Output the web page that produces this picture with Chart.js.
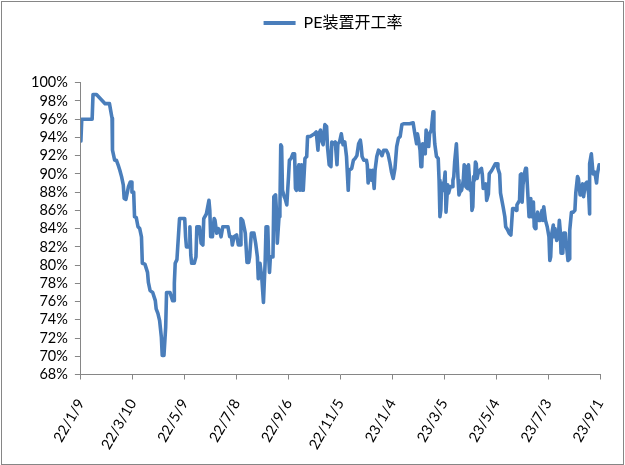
<!DOCTYPE html>
<html>
<head>
<meta charset="utf-8">
<script src="https://cdn.jsdelivr.net/npm/chart.js@4.4.1/dist/chart.umd.min.js"></script>
<style>
html,body{margin:0;padding:0;background:#fff;}
#wrap{width:625px;height:465px;position:relative;}
</style>
</head>
<body>
<div id="wrap"><canvas id="c"></canvas></div>
<script>
// ---- data ----
const seriesName = 'PE装置开工率';
const startDate = '2022-01-09';           // day 0 of the x axis
const tickStepDays = 60;
const tickLabels = ['22/1/9','22/3/10','22/5/9','22/7/8','22/9/6','22/11/5','23/1/4','23/3/5','23/5/4','23/7/3','23/9/1'];
// days since startDate
const dayOffsets = [
0,1,13,14,18,28,33,36,36,37,39,41,43,45,47,49,50,52,55,57,59,59,61,62,64,66,68,70,71,74,77,78,80,83,86,87,89,91,93,94,96,98,99,103,106,108,108,109,111,114,120,121,122,125,126,127,128,131,133,134,137,
139,141,142,145,148,149,150,152,154,155,157,159,161,162,164,170,172,174,175,177,180,182,184,185,187,189,190,192,194,195,197,200,202,204,205,207,209,211,213,214,216,217,218,219,222,223,225,226,227,229,230,231,232,233,235,236,238,239,240,241,243,245,247,248,249,250,252,253,255,256,257,259,261,262,265,270,272,274,275,277,278,280,282,284,285,287,289,290,292,294,296,297,299,301,303,305,307,309,
310,313,315,317,319,321,323,324,325,327,330,331,332,334,336,337,339,340,342,344,346,348,350,353,355,357,359,361,363,365,367,369,371,373,380,384,386,388,389,390,392,393,394,395,397,398,399,400,402,403,405,407,408,409,411,413,414,415,416,417,419,421,422,424,425,427,429,430,431,432,434,436,437,438,440,442,443,444,445,447,448,450,
451,452,453,454,455,456,457,458,459,461,463,464,465,466,468,469,471,472,475,479,481,482,484,485,486,488,490,491,493,495,497,499,501,503,504,507,508,509,510,511,513,514,515,516,518,519,520,521,523,524,525,526,528,529,531,533,534,535,537,539,541,542,543,544,546,547,548,550,552,553,554,555,557,558,560,561,563,565,565,567,569,571,572,574,575,577,578,580,581,583,585,587,588,588,590,592,594,596,597,599
];
// operating rate, %
const rates = [
93.6,96.0,96.0,98.7,98.7,97.7,97.7,96.1,93.5,92.6,91.5,91.5,91.0,90.4,89.7,88.8,87.3,87.2,88.6,89.1,89.1,88.0,88.0,85.3,85.2,84.2,84.0,83.1,80.2,80.1,79.2,78.1,77.2,77.0,76.1,75.2,74.7,73.9,72.1,70.1,70.1,73.2,77.0,77.0,76.1,76.1,78.0,80.2,80.6,85.1,85.1,83.1,82.0,82.0,84.2,81.1,80.2,80.2,80.9,84.2,84.2,
82.4,82.2,85.1,85.6,87.1,86.0,83.1,83.1,85.1,84.9,83.5,84.0,83.5,83.1,84.2,84.2,83.1,83.1,82.2,83.1,83.3,82.2,82.2,85.1,84.9,84.0,83.5,80.3,80.3,80.9,83.5,83.5,82.4,80.9,78.5,80.2,78.7,75.9,80.4,84.2,84.2,80.9,79.2,80.9,80.9,87.5,87.7,86.0,82.4,85.3,86.0,93.2,93.0,88.2,87.5,87.3,86.6,88.2,89.7,91.5,91.7,92.2,92.2,88.4,88.2,90.2,91.0,88.2,91.0,88.2,88.2,91.7,91.9,94.1,94.1,94.4,94.6,92.6,94.4,94.8,93.7,93.2,95.4,95.2,93.0,91.0,90.8,93.5,93.3,93.5,91.0,93.3,93.5,94.4,93.2,93.5,91.9,88.2,
90.4,90.6,91.5,91.7,92.0,93.3,93.7,93.0,91.9,91.5,91.5,91.0,89.0,90.4,89.3,90.4,88.4,90.4,91.9,92.6,92.4,92.0,92.6,92.6,92.2,91.3,90.2,89.5,90.6,93.0,93.9,94.1,95.4,95.5,95.5,95.6,94.4,93.3,94.4,93.9,92.6,90.8,90.8,93.3,92.6,92.2,94.8,94.8,93.0,94.4,94.8,96.8,94.8,93.3,91.9,91.7,89.3,85.3,86.0,89.0,88.2,90.2,85.8,88.8,87.9,88.6,88.6,89.3,89.7,91.3,93.3,89.3,87.7,88.0,88.2,89.3,91.0,90.8,88.6,88.4,91.0,88.2,
89.0,86.0,86.4,89.7,89.3,91.3,91.1,89.5,90.0,90.4,90.6,89.9,88.4,88.6,88.9,87.1,87.8,90.0,90.4,91.1,91.1,90.6,90.0,87.9,87.4,86.4,85.3,84.2,83.9,83.5,83.3,86.2,86.2,86.0,86.6,87.1,89.9,90.0,86.9,88.8,90.2,90.6,90.6,88.8,85.3,85.5,87.3,85.3,86.9,84.2,84.0,84.9,85.8,84.9,84.9,86.0,84.9,86.4,84.9,84.2,83.1,80.5,80.9,83.3,84.4,83.1,84.0,82.7,83.3,84.9,83.8,81.3,81.3,83.5,83.5,82.4,80.5,80.7,83.8,85.8,85.8,86.0,87.9,89.7,89.5,87.7,87.9,88.9,87.5,88.9,89.1,87.7,85.6,91.1,92.2,90.0,90.2,89.0,90.0,91.0
];
const yMin = 68, yMax = 100, yStep = 2;

// ---- style ----
const lineColor = '#4A7EBB';
const axisColor = '#868686';
const FONT = "Lato, 'Noto Sans CJK SC', sans-serif";
const legendOffsetX = 18;   // legend sits a little right of centre in the original

const points = dayOffsets.map((d, i) => ({x: d, y: rates[i]}));

const framePlugin = {
  id: 'frame',
  afterLayout(chart) {
    const lg = chart.legend;
    if (lg) { lg.left += legendOffsetX; lg.right += legendOffsetX; }
  },
  afterDraw(chart) {
    const ctx = chart.ctx;
    ctx.save();
    ctx.strokeStyle = axisColor;
    ctx.lineWidth = 1;
    ctx.strokeRect(1.5, 1.5, chart.width - 3, chart.height - 2);
    ctx.restore();
  }
};

new Chart(document.getElementById('c'), {
  type: 'line',
  data: {
    datasets: [{
      label: seriesName,
      data: points,
      borderColor: lineColor,
      backgroundColor: lineColor,
      borderWidth: 3.6,
      pointRadius: 0,
      tension: 0,
      borderJoinStyle: 'round',
      borderCapStyle: 'round',
      fill: false
    }]
  },
  options: {
    responsive: true,
    maintainAspectRatio: false,
    animation: false,
    layout: { padding: { left: 30, right: 25, top: 5, bottom: 0 } },
    plugins: {
      legend: {
        position: 'top',
        labels: {
          boxWidth: 32,
          boxHeight: 4,
          padding: 10,
          color: '#000',
          font: { family: FONT, size: 16 },
          generateLabels: (chart) => Chart.defaults.plugins.legend.labels.generateLabels(chart)
            .map(l => Object.assign(l, { fillStyle: lineColor, strokeStyle: lineColor, lineWidth: 0 }))
        }
      },
      title: { display: true, text: '', weight: 500, font: { size: 10 }, padding: { top: 0, bottom: 29.7 } },
      tooltip: { enabled: false }
    },
    scales: {
      x: {
        type: 'linear',
        min: 0,
        max: tickStepDays * (tickLabels.length - 1),
        afterFit: (s) => { s.height = 90.5; s.paddingRight = 0; s.paddingLeft = 0; },
        grid: { drawOnChartArea: false, drawTicks: true, tickLength: 5, color: axisColor },
        border: { color: axisColor, width: 1 },
        ticks: {
          stepSize: tickStepDays,
          autoSkip: false,
          minRotation: 60,
          maxRotation: 60,
          padding: 16.5,
          color: '#000',
          font: { family: FONT, size: 14.5 },
          callback: (v) => tickLabels[Math.round(v / tickStepDays)]
        }
      },
      y: {
        min: yMin,
        max: yMax,
        afterFit: (s) => { s.width = 50.9; },
        grid: { drawOnChartArea: false, drawTicks: true, tickLength: 6, color: axisColor },
        border: { color: axisColor, width: 1 },
        ticks: {
          stepSize: yStep,
          autoSkip: false,
          padding: 7,
          color: '#000',
          font: { family: FONT, size: 14.5 },
          callback: (v) => v + '%'
        }
      }
    }
  },
  plugins: [framePlugin]
});
</script>
</body>
</html>
